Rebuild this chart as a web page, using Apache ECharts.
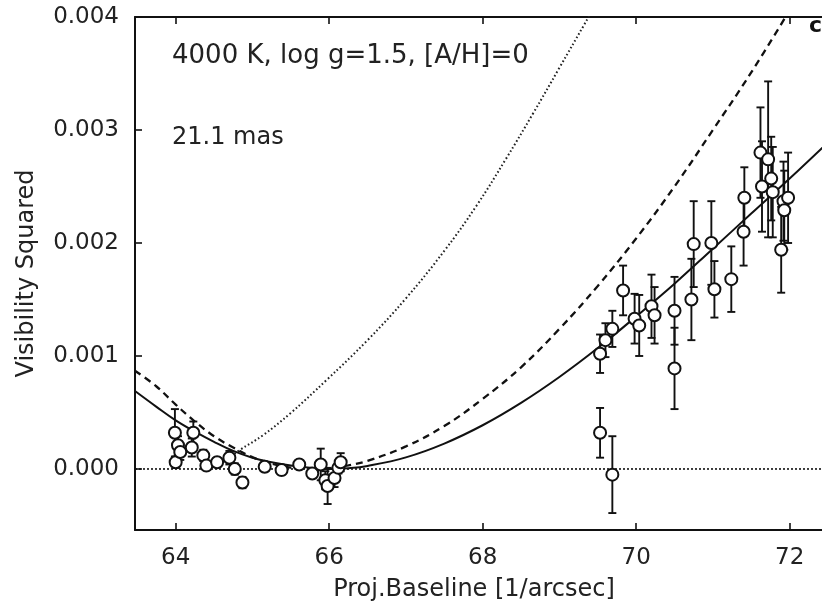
<!DOCTYPE html>
<html>
<head>
<meta charset="utf-8">
<script src="https://cdn.jsdelivr.net/npm/echarts@6/dist/echarts.min.js"></script>
<style>
html,body{margin:0;padding:0;background:#fff;}
#chart{width:822px;height:611px;}
</style>
</head>
<body>
<div id="chart"></div>
<script>
// ---- data ----
var xTicks = [64, 66, 68, 70, 72];
var yTicks = [0, 0.001, 0.002, 0.003, 0.004];

var baselineX = [63.99, 64.00, 64.03, 64.06, 64.23, 64.21, 64.36, 64.40, 64.54, 64.70, 64.77, 64.87,
  65.16, 65.38, 65.61, 65.78, 65.89, 65.95, 65.98, 66.07, 66.12, 66.15,
  69.53, 69.69, 69.53, 69.60, 69.69, 69.83, 69.98, 70.04, 70.20, 70.24, 70.50, 70.50,
  70.72, 70.75, 70.98, 71.02, 71.24, 71.40, 71.41, 71.62, 71.64, 71.72, 71.76, 71.78,
  71.92, 71.98, 71.93, 71.89];
var visSq = [0.00032, 0.00006, 0.00021, 0.00015, 0.00032, 0.00019, 0.00012, 0.00003, 0.00006, 0.00010, 0.00000, -0.00012,
  0.00002, -0.00001, 0.00004, -0.00004, 0.00004, -0.00010, -0.00015, -0.00008, 0.00001, 0.00006,
  0.00032, -0.00005, 0.00102, 0.00114, 0.00124, 0.00158, 0.00133, 0.00127, 0.00144, 0.00136, 0.00140, 0.00089,
  0.00150, 0.00199, 0.00200, 0.00159, 0.00168, 0.00210, 0.00240, 0.00280, 0.00250, 0.00274, 0.00257, 0.00245,
  0.00237, 0.00240, 0.00229, 0.00194];
var visErr = [0.00021, 0.00005, 0.00008, 0.00007, 0.00010, 0.00008, 0.00005, 0.00004, 0.00004, 0.00006, 0.00005, 0.00005,
  0.00004, 0.00004, 0.00003, 0.00004, 0.00014, 0.00008, 0.00016, 0.00008, 0.00005, 0.00008,
  0.00022, 0.00034, 0.00017, 0.00015, 0.00016, 0.00022, 0.00022, 0.00027, 0.00028, 0.00025, 0.00030, 0.00036,
  0.00036, 0.00038, 0.00037, 0.00025, 0.00029, 0.00030, 0.00027, 0.00040, 0.00040, 0.00069, 0.00037, 0.00040,
  0.00035, 0.00040, 0.00035, 0.00038];

var solidX = [63.47, 63.75, 64.0, 64.25, 64.5, 64.75, 65.0, 65.25, 65.5, 65.75, 66.0, 66.25, 66.5, 67.0, 67.5, 68.0, 68.5, 69.0, 69.5, 70.0, 70.5, 71.0, 71.5, 72.0, 72.5];
var solidY = [0.00069, 0.00055, 0.00043, 0.00033, 0.00024, 0.00016, 0.00010, 0.00006, 0.00003, 0.00001, 0.0, 0.000007, 0.000027, 0.000103, 0.000225, 0.000387, 0.000585, 0.000814, 0.00107, 0.00135, 0.00164, 0.00195, 0.00226, 0.00257, 0.00289];

var dashX = [63.47, 63.75, 64.0, 64.25, 64.5, 64.75, 65.0, 65.25, 65.5, 65.75, 66.0, 66.25, 66.5, 67.0, 67.5, 68.0, 68.5, 69.0, 69.5, 70.0, 70.5, 71.0, 71.5, 72.0];
var dashY = [0.00087, 0.00073, 0.00057, 0.00042, 0.00029, 0.00019, 0.000105, 0.000047, 0.000012, 0.0, 0.000008, 0.000032, 0.000072, 0.00020, 0.00038, 0.00062, 0.00090, 0.00124, 0.00162, 0.00204, 0.00250, 0.00300, 0.00351, 0.00406];

var dotX = [64.6, 64.7, 64.84, 65.14, 65.49, 65.97, 66.5, 67.0, 67.5, 67.92, 68.3, 68.66, 69.0, 69.33, 69.6];
var dotY = [0.00005, 0.00010, 0.00017, 0.00030, 0.00049, 0.00079, 0.00114, 0.00151, 0.00193, 0.00233, 0.00274, 0.00315, 0.00355, 0.00394, 0.00426];

var zeroX = [63.47, 72.5];
var zeroY = [0, 0];

// ---- build chart ----
function pairs(xs, ys) { return xs.map(function (x, i) { return [x, ys[i]]; }); }
var pts = baselineX.map(function (x, i) { return [x, visSq[i], visErr[i]]; });

var FONT = 'DejaVu Sans';
var INK = '#111';
var X_MIN = 63.47, X_MAX = 72.5, Y_MIN = -0.00054, Y_MAX = 0.004;

var chart = echarts.init(document.getElementById('chart'), null, {renderer: 'canvas'});
var axisLineStyle = {color: INK, width: 2};

var option = {
  backgroundColor: '#fff',
  animation: false,
  grid: {left: 135, top: 17, width: 693, height: 513, containLabel: false, outerBoundsMode: 'none'},
  xAxis: [{
    type: 'value', min: X_MIN, max: X_MAX, position: 'bottom',
    axisLine: {show: true, onZero: false, lineStyle: axisLineStyle},
    axisTick: {show: true, inside: true, length: 7, customValues: xTicks, lineStyle: {color: INK, width: 1.6}},
    axisLabel: {show: true, customValues: xTicks, margin: 17, fontFamily: FONT, fontSize: 23, color: '#222',
      formatter: function (v) { return String(Math.round(v)); }},
    splitLine: {show: false},
    name: 'Proj.Baseline [1/arcsec]', nameLocation: 'middle', nameGap: 48,
    nameTextStyle: {fontFamily: FONT, fontSize: 24, color: '#222', padding: [0, 15, 0, 0]}
  }, {
    type: 'value', min: X_MIN, max: X_MAX, position: 'top',
    axisLine: {show: true, onZero: false, lineStyle: axisLineStyle},
    axisTick: {show: true, inside: true, length: 7, customValues: xTicks, lineStyle: {color: INK, width: 1.6}},
    axisLabel: {show: false}, splitLine: {show: false}
  }],
  yAxis: [{
    type: 'value', min: Y_MIN, max: Y_MAX, position: 'left',
    axisLine: {show: true, onZero: false, lineStyle: axisLineStyle},
    axisTick: {show: true, inside: true, length: 7, customValues: yTicks, lineStyle: {color: INK, width: 1.6}},
    axisLabel: {show: true, customValues: yTicks, margin: 16, fontFamily: FONT, fontSize: 23, color: '#222',
      formatter: function (v) { return v.toFixed(3); }},
    splitLine: {show: false},
    name: 'Visibility Squared', nameLocation: 'middle', nameGap: 96,
    nameTextStyle: {fontFamily: FONT, fontSize: 24, color: '#222'}
  }],
  series: [
    {
      type: 'line', data: pairs(zeroX, zeroY), symbol: 'none', silent: true, z: 1,
      lineStyle: {color: INK, width: 1.6, type: [2, 2]}
    },
    {
      type: 'line', data: pairs(dotX, dotY), symbol: 'none', smooth: 0.4, clip: true, z: 2,
      lineStyle: {color: '#222', width: 2, type: [1.6, 2.4]}
    },
    {
      type: 'line', data: pairs(dashX, dashY), symbol: 'none', smooth: 0.4, clip: true, z: 2,
      lineStyle: {color: INK, width: 2.3, type: [7, 5]}
    },
    {
      type: 'line', data: pairs(solidX, solidY), symbol: 'none', smooth: 0.4, clip: true, z: 2,
      lineStyle: {color: INK, width: 2}
    },
    {
      type: 'custom', z: 3, clip: true,
      data: pts,
      renderItem: function (params, api) {
        var x = api.value(0), y = api.value(1), e = api.value(2);
        var t = api.coord([x, y + e]);
        var b = api.coord([x, y - e]);
        var hw = 4;
        var st = {stroke: INK, lineWidth: 1.9};
        return {type: 'group', children: [
          {type: 'line', shape: {x1: t[0], y1: t[1], x2: b[0], y2: b[1]}, style: st},
          {type: 'line', shape: {x1: t[0] - hw, y1: t[1], x2: t[0] + hw, y2: t[1]}, style: st},
          {type: 'line', shape: {x1: b[0] - hw, y1: b[1], x2: b[0] + hw, y2: b[1]}, style: st}
        ]};
      }
    },
    {
      type: 'scatter', z: 4, data: pts.map(function (p) { return [p[0], p[1]]; }),
      symbol: 'circle', symbolSize: 12,
      itemStyle: {color: '#fff', borderColor: INK, borderWidth: 2, opacity: 1}
    }
  ],
  graphic: [
    {type: 'text', left: 172, top: 43, style: {text: '4000 K, log g=1.5, [A/H]=0', font: '26px "DejaVu Sans"', fill: '#222'}},
    {type: 'text', left: 172, top: 126, style: {text: '21.1 mas', font: '24px "DejaVu Sans"', fill: '#222'}},
    {type: 'text', left: 809, top: 15, style: {text: 'c', font: 'bold 22px "DejaVu Sans"', fill: '#111'}}
  ]
};
chart.setOption(option);
</script>
</body>
</html>
